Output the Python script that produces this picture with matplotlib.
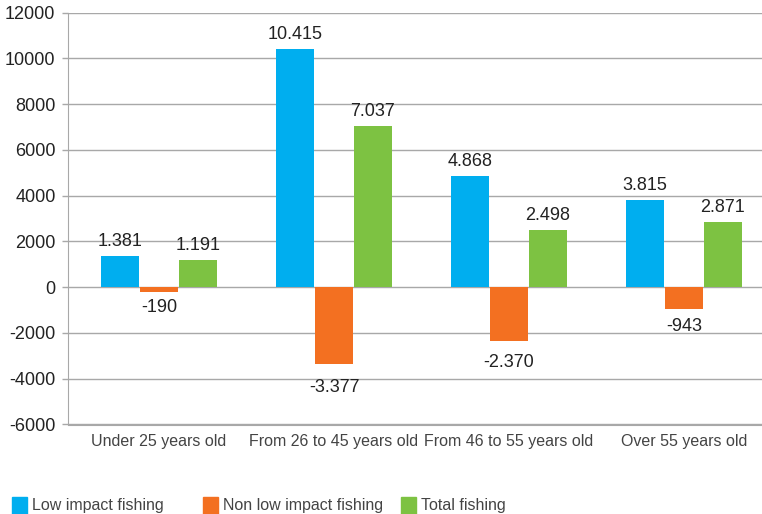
import matplotlib
matplotlib.use("Agg")
import matplotlib.pyplot as plt
from matplotlib.patches import Rectangle
import numpy as np

categories = ["Under 25 years old", "From 26 to 45 years old", "From 46 to 55 years old", "Over 55 years old"]
series_names = ["Low impact fishing", "Non low impact fishing", "Total fishing"]
low_impact = [1381, 10415, 4868, 3815]
non_low_impact = [-190, -3377, -2370, -943]
total = [1191, 7037, 2498, 2871]
yticks = [-6000, -4000, -2000, 0, 2000, 4000, 6000, 8000, 10000, 12000]

colors = ["#00AEEF", "#F37021", "#7DC242"]
plt.rcParams['font.family'] = ["Liberation Sans", "DejaVu Sans"]

NUM_FS = 13
CAT_FS = 11.5

fig = plt.figure(figsize=(7.62, 5.14), dpi=100)
W, H = 762, 514
ax_top, ax_bot = 12.7, 424.5
ax = fig.add_axes([68 / W, 1 - ax_bot / H, 707 / W, (ax_bot - ax_top) / H])

x = np.arange(len(categories))
bw = 0.218
offs = [-0.222, 0.0, 0.222]
data = [low_impact, non_low_impact, total]

def fmt(v):
    s = f"{abs(v):,}".replace(",", ".")
    return ("-" if v < 0 else "") + s

px = 72.0 / 100  # points per pixel
for vals, off, c in zip(data, offs, colors):
    ax.bar(x + off, vals, width=bw, color=c, zorder=3)
    for xi, v in zip(x + off, vals):
        if v >= 0:
            ax.annotate(fmt(v), (xi, v), xytext=(0, 10 * px), textcoords="offset points",
                        ha="center", va="baseline", fontsize=NUM_FS, color="#222222")
        else:
            ax.annotate(fmt(v), (xi, v * 1.1), xytext=(0, -20 * px), textcoords="offset points",
                        ha="center", va="baseline", fontsize=NUM_FS, color="#222222")

ax.set_xlim(-0.52, 3.52)
ax.set_ylim(-6000, 12000)
ax.set_yticks(yticks)
ax.set_yticklabels([str(t) for t in yticks], fontsize=NUM_FS, color="#222222")
ax.yaxis.grid(True, color="#a8a8a8", lw=1.0, zorder=1)
ax.set_axisbelow(True)
ax.set_xticks(x)
ax.set_xticklabels(categories, fontsize=CAT_FS, color="#444444")
ax.tick_params(axis="x", length=0, pad=6.5)
ax.tick_params(axis="y", length=4, width=1, color="#a8a8a8", pad=5)
for s in ["top", "right"]:
    ax.spines[s].set_visible(False)
ax.spines["left"].set_color("#a8a8a8")
ax.spines["bottom"].set_color("#a8a8a8")

# legend
leg_x = [12, 203, 401]
for lx, name, c in zip(leg_x, series_names, colors):
    fig.patches.append(Rectangle((lx / W, 1 - 514 / H), 15 / W, 17 / H,
                                 transform=fig.transFigure, color=c))
    fig.text((lx + 20) / W, 1 - 510 / H, name, fontsize=CAT_FS, color="#444444",
             ha="left", va="baseline")

fig.savefig("out.png", dpi=100)
